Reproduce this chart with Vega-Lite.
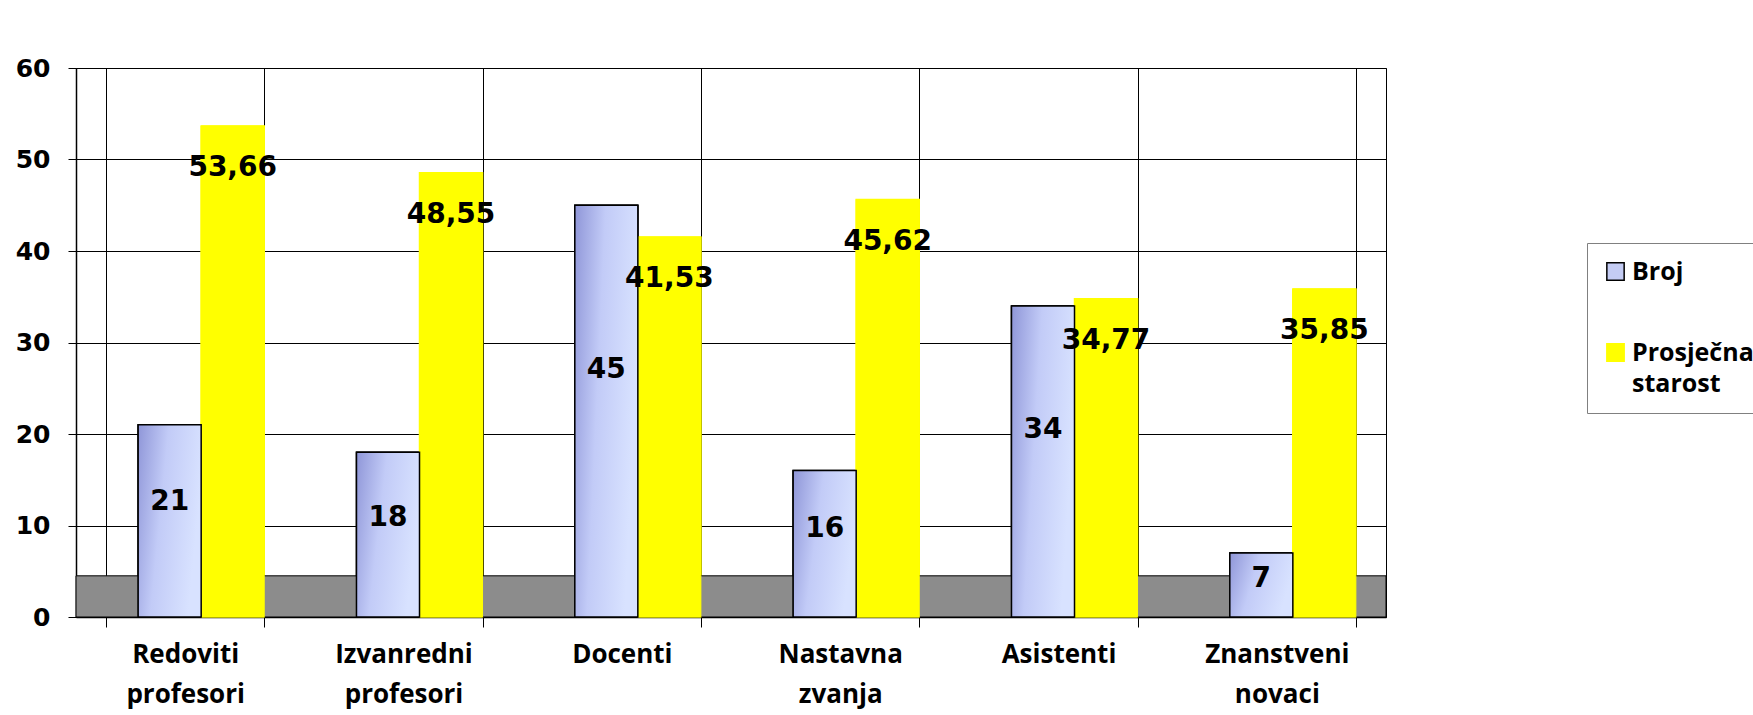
{
  "$schema": "https://vega.github.io/schema/vega-lite/v6.json",
  "width": 1310,
  "height": 549,
  "autosize": {"type": "none"},
  "padding": {"left": 76, "top": 68, "right": 367, "bottom": 98},
  "background": "white",
  "data": {
    "values": [
      {"cat": "Redoviti profesori", "series": "Broj", "v": 21, "label": "21"},
      {"cat": "Redoviti profesori", "series": "Prosječna starost", "v": 53.66, "label": "53,66"},
      {"cat": "Izvanredni profesori", "series": "Broj", "v": 18, "label": "18"},
      {"cat": "Izvanredni profesori", "series": "Prosječna starost", "v": 48.55, "label": "48,55"},
      {"cat": "Docenti", "series": "Broj", "v": 45, "label": "45"},
      {"cat": "Docenti", "series": "Prosječna starost", "v": 41.53, "label": "41,53"},
      {"cat": "Nastavna zvanja", "series": "Broj", "v": 16, "label": "16"},
      {"cat": "Nastavna zvanja", "series": "Prosječna starost", "v": 45.62, "label": "45,62"},
      {"cat": "Asistenti", "series": "Broj", "v": 34, "label": "34"},
      {"cat": "Asistenti", "series": "Prosječna starost", "v": 34.77, "label": "34,77"},
      {"cat": "Znanstveni novaci", "series": "Broj", "v": 7, "label": "7"},
      {"cat": "Znanstveni novaci", "series": "Prosječna starost", "v": 35.85, "label": "35,85"}
    ]
  },
  "layer": [
    {
      "mark": {"type": "bar", "strokeWidth": 1.5},
      "encoding": {
        "x": {
          "field": "cat", "type": "nominal", "sort": null,
          "scale": {"paddingInner": 0.276, "paddingOuter": 0.138},
          "axis": {
            "title": null, "labelAngle": 0, "tickBand": "extent",
            "grid": true, "gridColor": "#000000", "gridOpacity": 1, "gridWidth": 1,
            "domainColor": "#000000", "domainWidth": 1.5,
            "tickColor": "#000000", "tickSize": 10,
            "labelFont": "Open Sans", "labelFontWeight": "bold", "labelFontSize": 26,
            "labelColor": "#000000", "labelPadding": 14, "labelLineHeight": 40,
            "labelExpr": "datum.value ? split(datum.value, ' ') : ''"
          }
        },
        "xOffset": {"field": "series", "type": "nominal", "scale": {"paddingInner": 0, "paddingOuter": 0.254, "align": 1}},
        "y": {
          "field": "v", "type": "quantitative",
          "scale": {"domain": [0, 60]},
          "axis": {
            "title": null, "values": [0, 10, 20, 30, 40, 50, 60],
            "grid": true, "gridColor": "#000000", "gridOpacity": 1, "gridWidth": 1,
            "domainColor": "#000000", "domainWidth": 1.5,
            "tickColor": "#000000", "tickSize": 8,
            "labelFont": "DejaVu Sans", "labelFontWeight": "bold", "labelFontSize": 25,
            "labelColor": "#000000", "labelPadding": 18
          }
        },
        "color": {
          "field": "series", "type": "nominal",
          "scale": {"domain": ["Broj", "Prosječna starost"], "range": ["#c4ccf4", "#ffff00"]},
          "legend": {
            "title": null, "orient": "none", "legendX": 1511, "legendY": 175,
            "strokeColor": "#808080", "fillColor": "white", "padding": 16,
            "symbolType": "square", "symbolSize": 300, "symbolStrokeWidth": 1.5,
            "labelFont": "Open Sans", "labelFontWeight": "bold", "labelFontSize": 25,
            "labelColor": "#000000", "labelLimit": 300,
            "labelExpr": "split(datum.label, ' ')",
            "rowPadding": 55
          }
        },
        "stroke": {
          "field": "series", "type": "nominal",
          "scale": {"domain": ["Broj", "Prosječna starost"], "range": ["#000000", "#ffff00"]},
          "legend": null
        }
      }
    },
    {
      "data": {"values": [{"f": 1}]},
      "mark": {"type": "rect", "fill": "#8c8c8c", "stroke": "#000000", "strokeWidth": 1},
      "encoding": {
        "x": {"value": 0},
        "x2": {"value": "width"},
        "y": {"datum": 0, "type": "quantitative"},
        "y2": {"datum": 4.5}
      }
    },
    {
      "mark": {"type": "bar"},
      "encoding": {
        "x": {"field": "cat", "type": "nominal", "sort": null},
        "xOffset": {"field": "series", "type": "nominal"},
        "y": {"field": "v", "type": "quantitative"},
        "color": {"field": "series", "type": "nominal"},
        "stroke": {"field": "series", "type": "nominal"}
      }
    },
    {
      "transform": [{"filter": "datum.series === 'Broj'"}],
      "mark": {
        "type": "bar", "stroke": "#000000", "strokeWidth": 1.5,
        "color": {
          "gradient": "linear", "x1": 0, "y1": 0, "x2": 1, "y2": 0.3,
          "stops": [
            {"offset": 0, "color": "#8f96d8"},
            {"offset": 0.45, "color": "#c2cbf7"},
            {"offset": 1, "color": "#d8e2ff"}
          ]
        }
      },
      "encoding": {
        "x": {"field": "cat", "type": "nominal", "sort": null},
        "xOffset": {"field": "series", "type": "nominal"},
        "y": {"field": "v", "type": "quantitative"}
      }
    },
    {
      "transform": [
        {"filter": "datum.series === 'Broj'"},
        {"calculate": "datum.v * 0.6", "as": "ly"}
      ],
      "mark": {"type": "text", "font": "DejaVu Sans", "fontWeight": "bold", "fontSize": 28, "color": "#000000", "baseline": "middle"},
      "encoding": {
        "x": {"field": "cat", "type": "nominal", "sort": null},
        "xOffset": {"field": "series", "type": "nominal"},
        "y": {"field": "ly", "type": "quantitative"},
        "text": {"field": "label"}
      }
    },
    {
      "transform": [{"filter": "datum.series !== 'Broj'"}],
      "mark": {"type": "text", "font": "DejaVu Sans", "fontWeight": "bold", "fontSize": 28, "color": "#000000", "baseline": "middle", "dy": 42},
      "encoding": {
        "x": {"field": "cat", "type": "nominal", "sort": null},
        "xOffset": {"field": "series", "type": "nominal"},
        "y": {"field": "v", "type": "quantitative"},
        "text": {"field": "label"}
      }
    }
  ],
  "config": {
    "view": {"stroke": "#000000", "strokeWidth": 1},
    "style": {"guide-label": {"lineHeight": 31}}
  }
}
